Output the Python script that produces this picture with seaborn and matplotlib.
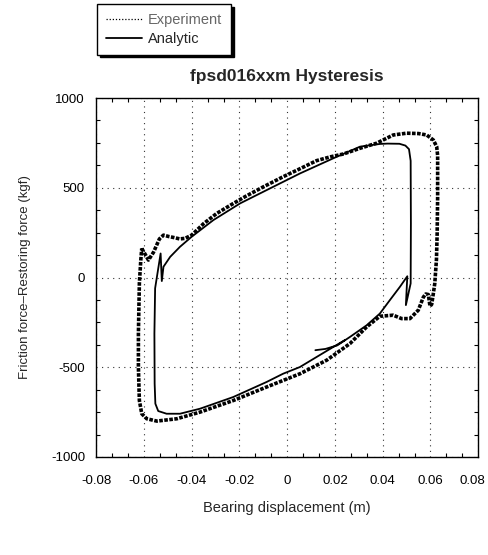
import numpy as np
import pandas as pd
import matplotlib
matplotlib.use("Agg")
import matplotlib.pyplot as plt
import matplotlib.transforms as mtransforms
import seaborn as sns
from matplotlib.lines import Line2D
from matplotlib.ticker import AutoMinorLocator

# ---------------- data ----------------
exp_x = [-0.0609, -0.0595, -0.0581, -0.0560, -0.0535, -0.0518, -0.0495, -0.0476, -0.0450,
         -0.0428, -0.0400, -0.0350, -0.0295, -0.0235, -0.0177, -0.0100, -0.0016, 0.0060,
         0.0123, 0.0180, 0.0235, 0.0305, 0.0374, 0.0444, 0.0500, 0.0550, 0.0584, 0.0612,
         0.0626, 0.0630, 0.0630, 0.0628, 0.0625, 0.0618, 0.0612, 0.0605, 0.0598, 0.0591,
         0.0580, 0.0570, 0.0549, 0.0514, 0.0479, 0.0444, 0.0388, 0.0333, 0.0263, 0.0165,
         0.0054, -0.0086, -0.0225, -0.0365, -0.0462, -0.0546, -0.0588, -0.0609, -0.0619,
         -0.0623, -0.0623, -0.0619, -0.0613, -0.0609]
exp_y = [162, 130, 97, 140, 215, 236, 228, 223, 215, 218, 236, 300, 357, 405, 450, 505,
         562, 610, 651, 672, 688, 720, 748, 794, 804, 802, 794, 766, 729, 680, 450, 246,
         100, -33, -89, -150, -160, -95, -92, -110, -182, -229, -229, -210, -216, -275,
         -368, -461, -536, -610, -685, -750, -787, -800, -787, -759, -685, -500, -313,
         -33, 97, 162]

ana_x = [0.0118, 0.0160, 0.0210, 0.0263, 0.0333, 0.0388, 0.0430, 0.0472, 0.0503, 0.0497,
         0.0517, 0.0518, 0.0517, 0.0510, 0.0495, 0.0470, 0.0420, 0.0388, 0.0305, 0.0193,
         0.0054, -0.0086, -0.0197, -0.0309, -0.0400, -0.0449, -0.0490, -0.0518, -0.0525,
         -0.0530, -0.0553, -0.0556, -0.0555, -0.0552, -0.0540, -0.0505, -0.0449, -0.0365,
         -0.0226, -0.0086, -0.0017, 0.0053, 0.0123, 0.0193, 0.0240]
ana_y = [-405, -398, -378, -331, -266, -201, -126, -52, 7, -154,
         -33, 300, 650, 715, 735, 745, 746, 744, 729, 664,
         580, 487, 413, 320, 227, 171, 115, 60, -20,
         134, -60, -313, -592, -703, -744, -759, -759, -731,
         -666, -582, -536, -499, -443, -387, -350]

x_ticks = [-0.08, -0.06, -0.04, -0.02, 0.0, 0.02, 0.04, 0.06, 0.08]
x_tick_labels = ["-0.08", "-0.06", "-0.04", "-0.02", "0", "0.02", "0.04", "0.06", "0.08"]
y_ticks = [-1000, -500, 0, 500, 1000]
y_tick_labels = ["-1000", "-500", "0", "500", "1000"]

series_names = ["Experiment", "Analytic"]
title_text = "fpsd016xxm Hysteresis"
x_label = "Bearing displacement (m)"
y_label = "Friction force\u2013Restoring force (kgf)"

# ---------------- plotting ----------------
sns.set_style("white")
plt.rcParams["font.family"] = ["Liberation Sans", "DejaVu Sans"]
plt.rcParams["axes.unicode_minus"] = False

fig = plt.figure(figsize=(4.88, 5.55), dpi=100)
ax = fig.add_axes([0.197, 0.1766, 0.783, 0.6468])

exp_df = pd.DataFrame({"x": exp_x, "y": exp_y})
ana_df = pd.DataFrame({"x": ana_x, "y": ana_y})

sns.lineplot(data=exp_df, x="x", y="y", sort=False, estimator=None, ax=ax,
             color="black", linewidth=2.6, linestyle=(0, (1, 0.4)), zorder=3)
sns.lineplot(data=ana_df, x="x", y="y", sort=False, estimator=None, ax=ax,
             color="black", linewidth=1.3, linestyle="-", zorder=4)

ax.set_xlim(-0.08, 0.08)
ax.set_ylim(-1000, 1000)
ax.set_xticks(x_ticks)
ax.set_xticklabels(x_tick_labels)
ax.set_yticks(y_ticks)
ax.set_yticklabels(y_tick_labels)
ax.xaxis.set_minor_locator(AutoMinorLocator(3))
ax.yaxis.set_minor_locator(AutoMinorLocator(4))

ax.grid(True, which="major", color="#333333", linestyle=(0, (1, 4)), linewidth=0.8)
ax.tick_params(which="both", direction="in", top=True, right=True, bottom=True, left=True)
ax.tick_params(which="major", length=0, labelsize=9.5, colors="black")
ax.tick_params(axis="x", which="major", pad=13)
ax.tick_params(axis="y", which="major", pad=8)
ax.tick_params(which="minor", length=3, width=0.8, color="black")
for s in ax.spines.values():
    s.set_visible(True)
    s.set_color("black")
    s.set_linewidth(1.0)

# keep the last x tick label inside the figure
last = ax.get_xticklabels()[-1]
last.set_transform(last.get_transform() +
                   mtransforms.ScaledTranslation(-6 / 100, 0, fig.dpi_scale_trans))

ax.set_xlabel(x_label, fontsize=10.5, labelpad=10)
ax.set_ylabel(y_label, fontsize=9.5, labelpad=14)
ax.set_title(title_text, fontsize=12.5, fontweight="bold", pad=12)

handles = [Line2D([], [], color="black", linewidth=0.9, linestyle=(0, (1, 1.5))),
           Line2D([], [], color="black", linewidth=1.3, linestyle="-")]
leg = fig.legend(handles, series_names, loc="upper left",
                 bbox_to_anchor=(97 / 488, 1 - 4 / 555), frameon=True, fancybox=False,
                 shadow={"color": "black", "alpha": 1.0}, edgecolor="black",
                 framealpha=1.0, fontsize=10.5, handlelength=2.5, handletextpad=0.4,
                 borderpad=0.6, labelspacing=0.35, borderaxespad=0)
leg.get_frame().set_linewidth(1.0)
leg.get_texts()[0].set_color("#666666")

fig.savefig("out.png", dpi=100)
